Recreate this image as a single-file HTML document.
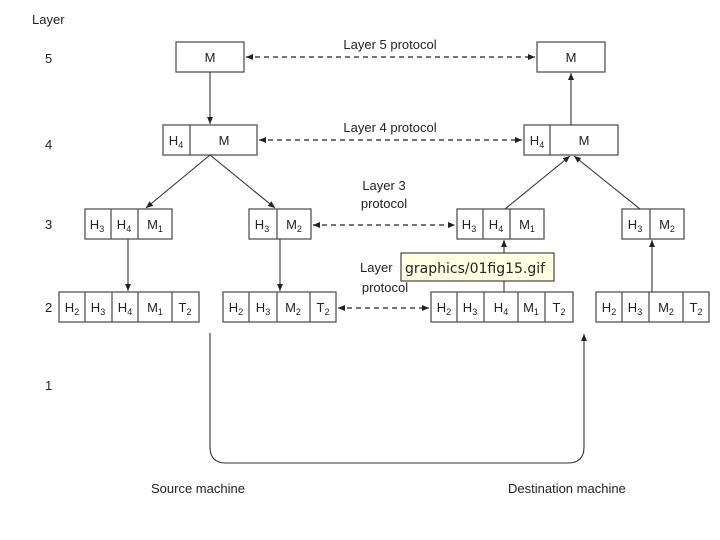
<!DOCTYPE html>
<html><head><meta charset="utf-8"><style>
html,body{margin:0;padding:0;background:#fff;}
svg{display:block;}
text{font-family:"Liberation Sans",sans-serif;fill:#222;}
</style></head><body>
<svg width="720" height="540" viewBox="0 0 720 540" xmlns="http://www.w3.org/2000/svg">
<defs>
<marker id="a" markerWidth="8" markerHeight="8" refX="7" refY="4" orient="auto" markerUnits="userSpaceOnUse"><path d="M0,1 L7,4 L0,7z" fill="#222"/></marker>
<marker id="s" markerWidth="8" markerHeight="8" refX="1" refY="4" orient="auto" markerUnits="userSpaceOnUse"><path d="M8,1 L1,4 L8,7z" fill="#222"/></marker>
</defs>
<g stroke="#555" stroke-width="1.3" fill="#fff">
<rect x="176" y="42" width="68" height="30"/><rect x="537" y="42" width="68" height="30"/>
<rect x="163" y="125" width="94" height="30"/><line x1="190" y1="125" x2="190" y2="155"/>
<rect x="524" y="125" width="94" height="30"/><line x1="550" y1="125" x2="550" y2="155"/>
<rect x="85" y="209" width="87" height="30"/><line x1="111" y1="209" x2="111" y2="239"/><line x1="138" y1="209" x2="138" y2="239"/>
<rect x="249" y="209" width="62" height="30"/><line x1="277" y1="209" x2="277" y2="239"/>
<rect x="457" y="209" width="87" height="30"/><line x1="483" y1="209" x2="483" y2="239"/><line x1="510" y1="209" x2="510" y2="239"/>
<rect x="622" y="209" width="62" height="30"/><line x1="650" y1="209" x2="650" y2="239"/>
<rect x="59" y="292" width="140" height="30"/><line x1="85" y1="292" x2="85" y2="322"/><line x1="112" y1="292" x2="112" y2="322"/><line x1="138" y1="292" x2="138" y2="322"/><line x1="172" y1="292" x2="172" y2="322"/>
<rect x="223" y="292" width="113" height="30"/><line x1="249" y1="292" x2="249" y2="322"/><line x1="277" y1="292" x2="277" y2="322"/><line x1="310" y1="292" x2="310" y2="322"/>
<rect x="431" y="292" width="142" height="30"/><line x1="457" y1="292" x2="457" y2="322"/><line x1="484" y1="292" x2="484" y2="322"/><line x1="518" y1="292" x2="518" y2="322"/><line x1="545" y1="292" x2="545" y2="322"/>
<rect x="596" y="292" width="113" height="30"/><line x1="622" y1="292" x2="622" y2="322"/><line x1="649" y1="292" x2="649" y2="322"/><line x1="683" y1="292" x2="683" y2="322"/>
</g>
<g stroke="#222" stroke-width="1.2" fill="none" stroke-dasharray="5,4">
<line x1="246" y1="57" x2="535" y2="57" marker-start="url(#s)" marker-end="url(#a)"/>
<line x1="259" y1="140" x2="522" y2="140" marker-start="url(#s)" marker-end="url(#a)"/>
<line x1="313" y1="225" x2="455" y2="225" marker-start="url(#s)" marker-end="url(#a)"/>
<line x1="338" y1="308" x2="429" y2="308" marker-start="url(#s)" marker-end="url(#a)"/>
</g>
<g stroke="#333" stroke-width="1.1" fill="none">
<line x1="210" y1="72" x2="210" y2="124" marker-end="url(#a)"/>
<line x1="210" y1="155" x2="146" y2="208" marker-end="url(#a)"/>
<line x1="210" y1="155" x2="275" y2="208" marker-end="url(#a)"/>
<line x1="128" y1="239" x2="128" y2="291" marker-end="url(#a)"/>
<line x1="280" y1="239" x2="280" y2="291" marker-end="url(#a)"/>
<line x1="571" y1="125" x2="571" y2="73" marker-end="url(#a)"/>
<line x1="505" y1="209" x2="570" y2="156" marker-end="url(#a)"/>
<line x1="640" y1="209" x2="574" y2="156" marker-end="url(#a)"/>
<line x1="504" y1="292" x2="504" y2="240" marker-end="url(#a)"/>
<line x1="652" y1="292" x2="652" y2="240" marker-end="url(#a)"/>
<path d="M210,333 V447 Q210,463 226,463 H568 Q584,463 584,447 V334" marker-end="url(#a)"/>
</g>
<g font-size="13" text-anchor="middle">
<text x="210" y="62">M</text><text x="571" y="62">M</text>
<text x="176" y="145">H<tspan font-size="9" dy="3">4</tspan></text><text x="224" y="145">M</text>
<text x="537" y="145">H<tspan font-size="9" dy="3">4</tspan></text><text x="584" y="145">M</text>
<text x="97" y="229">H<tspan font-size="9" dy="3">3</tspan></text><text x="124" y="229">H<tspan font-size="9" dy="3">4</tspan></text><text x="155" y="229">M<tspan font-size="9" dy="3">1</tspan></text>
<text x="262" y="229">H<tspan font-size="9" dy="3">3</tspan></text><text x="294" y="229">M<tspan font-size="9" dy="3">2</tspan></text>
<text x="469" y="229">H<tspan font-size="9" dy="3">3</tspan></text><text x="496" y="229">H<tspan font-size="9" dy="3">4</tspan></text><text x="527" y="229">M<tspan font-size="9" dy="3">1</tspan></text>
<text x="635" y="229">H<tspan font-size="9" dy="3">3</tspan></text><text x="667" y="229">M<tspan font-size="9" dy="3">2</tspan></text>
<text x="72" y="312">H<tspan font-size="9" dy="3">2</tspan></text><text x="98" y="312">H<tspan font-size="9" dy="3">3</tspan></text><text x="125" y="312">H<tspan font-size="9" dy="3">4</tspan></text><text x="155" y="312">M<tspan font-size="9" dy="3">1</tspan></text><text x="185" y="312">T<tspan font-size="9" dy="3">2</tspan></text>
<text x="236" y="312">H<tspan font-size="9" dy="3">2</tspan></text><text x="263" y="312">H<tspan font-size="9" dy="3">3</tspan></text><text x="293" y="312">M<tspan font-size="9" dy="3">2</tspan></text><text x="323" y="312">T<tspan font-size="9" dy="3">2</tspan></text>
<text x="444" y="312">H<tspan font-size="9" dy="3">2</tspan></text><text x="470" y="312">H<tspan font-size="9" dy="3">3</tspan></text><text x="501" y="312">H<tspan font-size="9" dy="3">4</tspan></text><text x="531" y="312">M<tspan font-size="9" dy="3">1</tspan></text><text x="559" y="312">T<tspan font-size="9" dy="3">2</tspan></text>
<text x="609" y="312">H<tspan font-size="9" dy="3">2</tspan></text><text x="635" y="312">H<tspan font-size="9" dy="3">3</tspan></text><text x="666" y="312">M<tspan font-size="9" dy="3">2</tspan></text><text x="696" y="312">T<tspan font-size="9" dy="3">2</tspan></text>
<text x="390" y="49">Layer 5 protocol</text>
<text x="390" y="132">Layer 4 protocol</text>
<text x="384" y="190">Layer 3</text><text x="384" y="208">protocol</text>
<text x="385" y="292">protocol</text>
</g>
<g font-size="13">
<text x="32" y="24">Layer</text>
<text x="45" y="63">5</text><text x="45" y="149">4</text><text x="45" y="229">3</text><text x="45" y="312">2</text><text x="45" y="390">1</text>
<text x="360" y="272">Layer</text>
<text x="151" y="493">Source machine</text>
<text x="508" y="493">Destination machine</text>
</g>
<rect x="401" y="253" width="153" height="28" fill="#ffffe1" stroke="#222" stroke-width="1"/>
<text x="405" y="273" font-size="14" style="font-family:'DejaVu Sans','Liberation Sans',sans-serif">graphics/01fig15.gif</text>
</svg>
</body></html>
